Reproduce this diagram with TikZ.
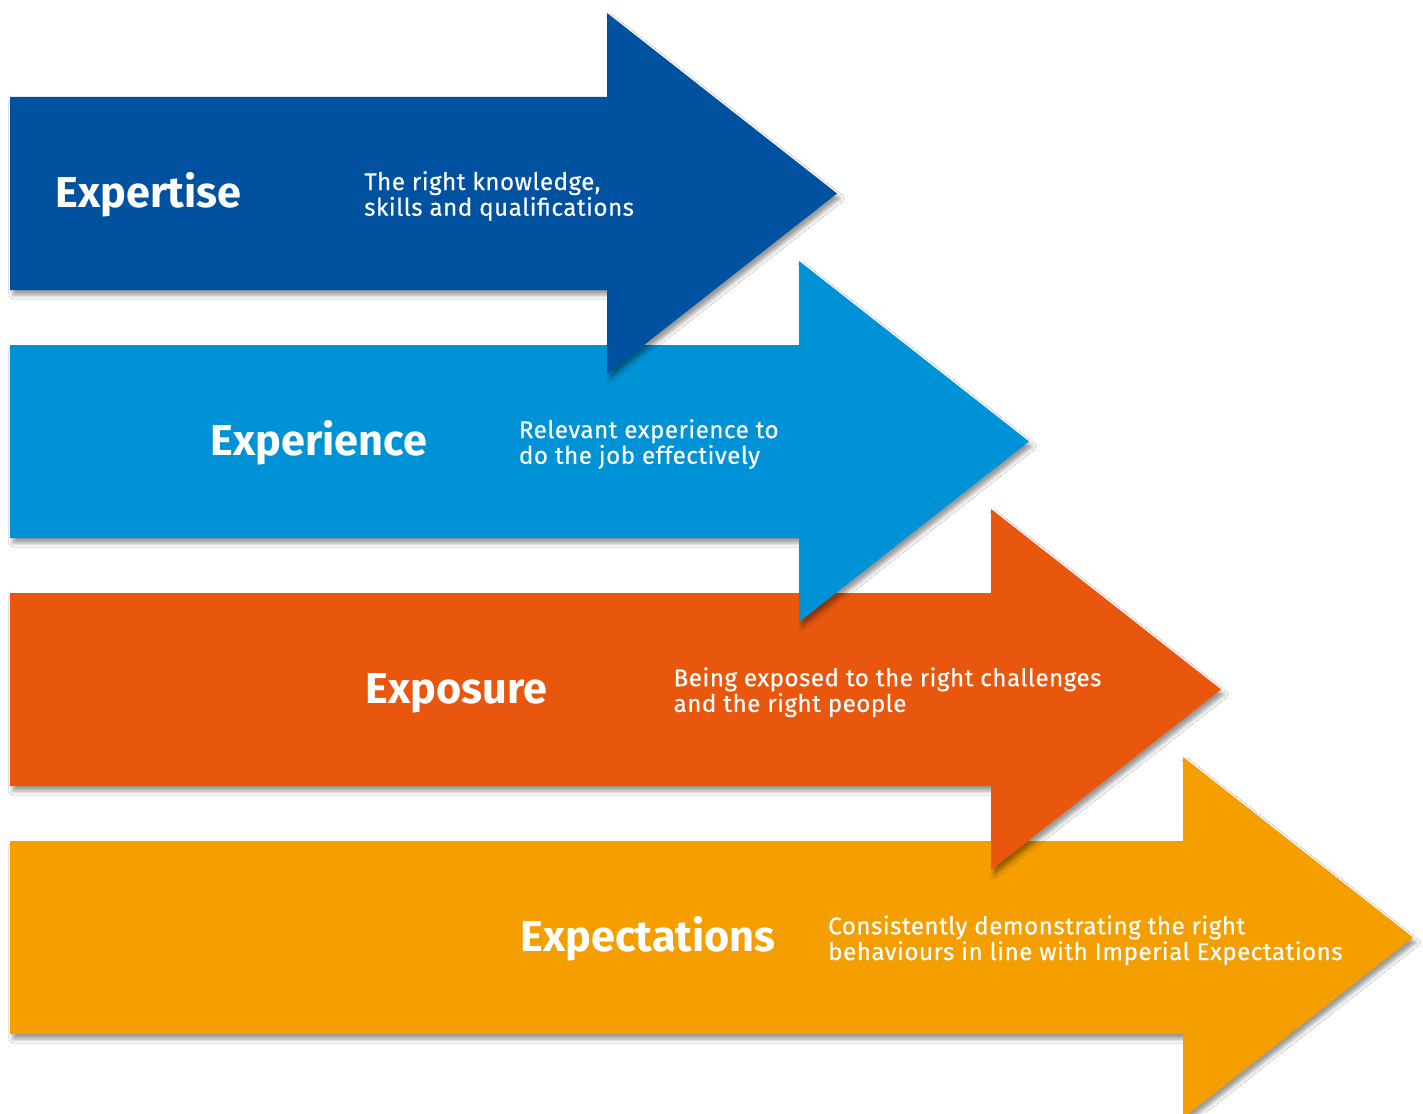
\documentclass[tikz,border=0pt]{standalone}
\usepackage{fontspec}
\setmainfont{Fira Sans}
\newfontfamily\descfont{Fira Sans}[LetterSpace=2,FakeBold=0.4]
\usetikzlibrary{shadows.blur}
\definecolor{cA}{RGB}{0,81,159}
\definecolor{cB}{RGB}{0,146,214}
\definecolor{cC}{RGB}{233,87,14}
\definecolor{cD}{RGB}{244,158,0}
\tikzset{
  arrowshape/.style={blur shadow={shadow xshift=3pt,shadow yshift=-5pt,shadow blur radius=4pt,shadow opacity=40}},
  title/.style={text=white,inner sep=0pt,anchor=base west,font=\fontsize{43.2}{44}\selectfont\bfseries},
  desc/.style={text=white,inner sep=0pt,anchor=base west,align=left,font=\descfont\fontsize{24.2}{25.7}\selectfont},
}
\begin{document}
\begin{tikzpicture}[x=1pt,y=-1pt]
\useasboundingbox (0,0) rectangle (1423,1113);
\clip (0,0) rectangle (1423,1113);
\fill[white] (0,0) rectangle (1423,1113);
% arrow 4
\fill[cD,arrowshape] (10,841) -- (1183,841) -- (1183,757) -- (1413,937.5) -- (1183,1118) -- (1183,1034) -- (10,1034) -- cycle;
% arrow 3
\fill[cC,arrowshape] (10,593) -- (991,593) -- (991,509) -- (1221,689.5) -- (991,870) -- (991,786) -- (10,786) -- cycle;
% arrow 2
\fill[cB,arrowshape] (10,345) -- (799,345) -- (799,261) -- (1029,441.5) -- (799,622) -- (799,538) -- (10,538) -- cycle;
% arrow 1
\fill[cA,arrowshape] (10,97) -- (607,97) -- (607,13) -- (837,193.5) -- (607,374) -- (607,290) -- (10,290) -- cycle;
\node[title] (t1) at (55.5,207.3) {Expertise};
\node[title] (t2) at (210.5,455.4) {Experience};
\node[title] (t3) at (365.5,703.5) {Exposure};
\node[title] (t4) at (520.5,951.6) {Expectations};
\node[desc] (d1) at (364,215.7) {The right knowledge,\\skills and qualifications};
\node[desc] (d2) at (518.7,463.8) {Relevant experience to\\do the job effectively};
\node[desc] (d3) at (673.4,711.9) {Being exposed to the right challenges\\and the right people};
\node[desc] (d4) at (828,960) {Consistently demonstrating the right\\behaviours in line with Imperial Expectations};
\end{tikzpicture}
\end{document}
